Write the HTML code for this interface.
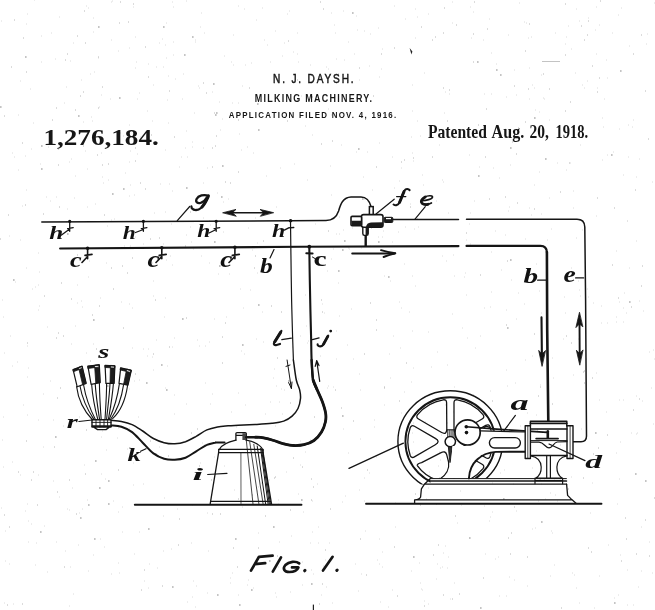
<!DOCTYPE html>
<html>
<head>
<meta charset="utf-8">
<title>Patent 1,276,184 - Milking Machinery</title>
<style>
html,body{margin:0;padding:0;background:#ffffff;}
body{width:655px;height:610px;overflow:hidden;font-family:"Liberation Sans",sans-serif;}
svg{display:block;position:absolute;left:0;top:0;will-change:transform;}
.sans{font-family:"Liberation Sans",sans-serif;fill:#161616;}
.serif{font-family:"Liberation Serif",serif;fill:#161616;}
.lab{font-family:"Liberation Serif",serif;font-style:italic;font-weight:bold;fill:#111;}
.ln{fill:none;stroke:#151515;stroke-linecap:round;stroke-linejoin:round;}
</style>
</head>
<body>
<svg width="655" height="610" viewBox="0 0 655 610">
<rect x="0" y="0" width="655" height="610" fill="#ffffff"/>

<g id="noise" fill="none" stroke-linecap="butt">
<path d="M212 92h1M47 327h1M38 310h1M284 43h1M278 504h1M31 524h1M94 72h1M535 110h1M418 227h1M41 36h1M446 261h1M384 276h1M520 426h1M100 298h1M438 466h1M573 191h1M389 354h1M550 576h1M186 235h1M15 282h1M85 151h1M571 49h1M566 170h1M99 107h1M153 296h1M172 2h1M452 314h1M257 243h1M415 38h1M137 99h1M34 0h1M66 222h1M573 375h1M165 212h1M305 295h1M67 209h1M543 98h1M623 322h1M356 16h1M641 527h1M171 224h1M536 451h1M339 217h1M18 170h1M454 583h1M239 134h1M129 125h1M590 513h1M428 488h1M491 292h1M636 241h1M620 442h1M642 401h1M359 80h1M636 396h1M541 129h1M192 147h1M170 256h1M596 216h1M382 552h1M601 306h1M343 11h1M364 199h1M364 478h1M367 152h1M506 310h1M498 557h1M401 308h1M454 276h1M313 574h1M574 575h1M90 74h1M48 147h1M101 437h1M144 581h1M106 263h1M222 119h1M473 12h1M289 11h1M409 312h1M69 162h1M510 165h1M374 427h1M38 420h1M47 572h1M44 526h1M175 79h1M156 67h1M33 123h1M200 463h1M328 109h1M12 153h1M480 336h1M311 570h1M536 264h1M547 240h1M450 599h1M545 431h1M265 212h1M167 100h1M551 531h1M185 148h1M301 96h1M203 218h1M250 290h1M132 308h1M173 55h1M27 14h1M152 357h1M576 238h1M532 85h1M447 423h1M20 81h1M69 510h1M411 382h1M490 307h1M165 45h1M639 301h1M404 392h1M199 346h1M40 164h1M453 412h1M338 283h1M78 545h1M641 571h1M294 164h1M619 129h1M87 500h1M581 429h1M588 297h1M2 300h1M198 86h1M207 513h1M492 512h1M190 227h1M654 359h1M280 168h1M67 509h1M613 152h1M335 116h1M360 439h1M422 175h1M607 78h1M639 159h1M197 340h1M110 99h1M593 303h1M594 608h1M91 117h1M224 56h1M491 252h1M343 230h1M82 307h1M565 132h1M163 244h1M587 289h1M163 67h1M300 336h1M423 185h1M165 388h1M73 43h1M382 237h1M394 6h1M302 585h1M579 290h1M201 13h1M442 256h1M437 564h1M22 206h1M484 308h1M193 581h1M123 136h1M436 579h1M93 32h1M489 19h1M248 228h1M111 2h1M230 583h1M632 127h1M538 501h1M32 289h1M602 118h1M588 18h1M532 468h1M207 168h1M495 559h1M618 15h1M253 153h1M323 566h1M506 370h1M162 39h1M579 603h1M55 59h1M465 273h1M273 378h1M490 517h1M79 513h1M130 151h1M100 539h1M428 604h1M599 25h1M382 567h1M567 274h1M509 577h1M390 378h1M242 86h1M167 366h1M133 7h1M444 113h1M133 485h1M41 62h1M360 390h1M107 424h1M205 346h1M278 500h1M578 281h1M10 336h1M596 54h1M243 308h1M633 120h1M618 595h1M35 565h1M105 479h1M120 133h1M339 234h1M25 511h1M393 336h1M201 256h1M279 402h1M287 14h1M511 280h1M310 65h1M282 56h1M334 25h1M335 33h1M248 580h1M104 547h1M534 88h1M603 127h1M331 195h1M445 546h1M514 70h1M69 606h1M258 487h1M649 352h1M501 270h1M384 405h1M1 21h1M404 264h1M587 81h1M428 14h1M233 65h1M147 356h1M134 381h1M88 571h1M98 58h1M571 477h1M173 7h1M368 214h1M163 551h1M348 248h1M38 475h1M361 574h1M131 371h1M420 496h1M203 183h1M305 452h1M148 64h1M174 338h1M516 319h1M421 589h1M576 9h1M413 423h1M457 523h1M475 348h1M139 380h1M597 88h1M70 567h1M93 18h1M454 387h1M483 40h1M599 576h1M135 68h1M555 495h1M540 385h1M134 195h1M14 157h1M469 224h1M405 19h1M286 472h1M462 328h1M112 1h1M499 596h1M121 302h1M186 131h1M326 67h1M53 481h1M515 383h1M56 542h1M153 281h1M494 459h1M228 199h1M379 77h1M580 145h1M101 95h1M214 319h1M521 447h1M129 389h1M135 237h1M261 483h1M328 386h1M93 368h1M485 554h1M376 457h1M445 391h1M205 383h1M412 153h1M298 379h1M442 567h1M429 475h1M321 595h1M616 317h1M138 417h1M233 35h1M262 8h1M275 426h1M616 322h1M525 239h1M415 286h1M148 588h1M307 180h1M82 509h1M557 163h1M166 260h1M2 440h1M160 184h1M281 389h1M415 9h1M623 400h1M66 87h1M508 211h1M592 483h1M549 120h1M348 453h1M578 339h1M153 85h1M38 285h1M322 304h1M307 343h1M551 229h1M629 46h1M417 17h1M447 568h1M643 311h1M240 289h1M505 129h1M192 505h1M330 166h1M217 193h1M357 30h1M596 373h1M411 425h1M446 130h1M300 465h1M599 400h1M539 480h1M169 184h1M209 263h1M612 33h1M377 560h1M9 236h1M614 598h1M270 62h1M139 93h1M3 417h1M159 447h1M560 445h1M412 433h1M470 7h1M426 499h1M204 445h1M564 297h1M241 351h1M238 393h1M619 479h1M461 505h1M394 188h1M582 230h1M186 1h1M532 529h1M448 557h1M153 370h1M305 126h1M492 483h1M580 318h1M386 115h1M118 428h1M370 246h1M245 65h1M516 95h1M226 317h1M319 346h1M166 23h1M118 51h1M365 531h1M620 555h1M392 242h1M628 157h1M420 583h1M257 273h1M633 605h1M25 156h1M424 601h1M443 182h1M496 64h1M168 76h1M110 145h1M582 85h1M412 276h1M539 291h1M94 135h1M467 338h1M570 163h1M219 102h1M208 551h1M438 129h1M187 157h1M606 60h1M192 597h1M529 208h1M1 508h1M143 349h1M129 48h1M399 302h1M532 356h1M43 447h1M312 532h1M122 507h1M107 226h1M3 317h1M535 528h1M324 313h1M147 111h1M164 498h1M63 426h1M12 366h1M343 429h1M570 437h1M81 301h1M183 74h1M509 207h1M555 33h1M627 570h1M276 386h1M348 42h1M331 13h1M579 21h1M174 414h1M355 564h1M164 317h1M623 175h1M424 73h1M626 313h1M306 326h1M81 80h1M266 176h1M400 348h1M132 433h1M359 374h1M203 148h1M336 234h1M156 340h1M187 602h1M506 97h1M571 268h1M484 94h1M231 412h1M557 501h1M3 467h1M326 587h1M398 232h1M300 441h1M256 339h1M327 271h1M199 88h1M628 125h1M596 7h1M339 316h1M255 218h1M230 578h1M344 60h1M263 342h1M576 588h1M541 313h1M649 542h1M102 177h1M331 115h1M413 368h1M651 388h1M269 480h1M452 2h1M552 358h1M129 304h1M174 395h1M653 350h1M70 61h1M342 502h1M528 38h1M232 103h1M65 551h1M229 274h1M36 543h1M629 268h1M534 185h1M317 484h1M114 219h1M636 177h1M75 326h1M264 40h1M541 214h1M125 173h1M23 405h1M102 431h1M177 509h1M247 585h1M623 308h1M171 549h1M241 150h1M139 532h1M336 331h1M505 235h1M372 190h1M210 404h1M368 221h1M195 40h1M87 169h1M445 405h1M270 402h1M163 516h1M412 111h1M26 24h1M130 185h1M26 190h1M118 512h1M469 155h1M448 213h1M546 474h1M28 521h1M31 149h1M491 53h1M278 567h1M484 506h1M297 33h1M84 465h1M460 491h1M358 591h1M356 152h1M234 251h1M439 145h1M93 344h1M111 407h1M75 176h1M135 37h1M129 428h1M74 198h1M238 103h1M369 66h1M284 116h1M5 561h1M411 571h1M165 150h1M194 113h1M554 565h1M210 225h1M242 507h1M27 346h1M619 302h1M103 183h1M53 420h1M290 592h1M26 268h1M560 480h1M186 404h1M276 207h1M108 180h1M369 212h1M56 197h1M638 587h1M531 37h1M399 181h1M624 293h1M18 115h1M293 52h1M244 354h1M347 345h1M166 58h1M165 298h1M148 349h1M336 359h1M267 45h1M369 473h1M508 35h1M244 9h1M279 542h1M224 466h1M541 75h1M28 368h1M359 490h1M606 412h1M381 69h1M72 488h1M363 177h1M621 8h1M524 22h1M536 415h1M258 533h1M50 201h1M586 359h1M111 220h1M378 237h1M4 353h1M30 89h1M179 167h1M172 347h1M627 605h1M507 386h1M572 573h1M333 387h1M361 248h1M315 224h1M154 213h1M5 531h1M292 347h1M111 40h1M202 443h1M382 49h1M380 602h1M181 157h1M143 244h1M395 527h1M573 208h1M419 563h1M214 457h1M265 414h1M38 253h1M410 204h1M392 157h1M9 564h1M647 34h1M474 201h1M59 497h1M353 359h1M431 367h1M500 473h1M506 596h1M86 6h1M429 472h1M59 17h1M39 306h1M119 573h1M604 99h1M327 388h1M524 281h1M43 394h1M566 37h1M411 137h1M172 265h1M133 463h1M195 607h1M539 172h1M318 543h1M447 365h1M379 539h1M652 182h1M73 594h1M64 103h1M452 23h1M152 263h1M13 604h1M575 73h1M89 261h1M328 69h1M325 560h1M479 167h1M173 42h1M333 249h1M238 6h1M428 332h1M470 244h1M275 593h1M252 250h1M654 3h1M607 155h1M247 147h1M595 30h1M212 394h1M207 593h1M489 521h1M388 607h1M412 453h1M466 240h1M401 413h1M412 331h1M310 440h1M312 135h1M607 323h1M345 496h1M113 501h1M568 26h1M545 499h1M101 153h1M234 490h1M297 54h1M653 424h1M98 415h1M341 145h1M223 232h1M132 348h1M117 438h1M405 227h1M193 249h1M531 215h1M379 564h1M636 434h1M436 201h1M495 231h1M17 362h1M303 512h1M310 543h1M439 452h1M27 415h1M504 470h1M370 34h1M466 295h1M453 255h1M95 204h1M4 603h1M172 191h1M563 339h1M275 31h1M168 123h1M352 228h1M320 356h1M364 31h1M349 249h1M291 536h1M284 390h1M565 44h1M118 563h1M524 304h1M442 180h1M136 62h1M514 580h1M449 94h1M192 142h1M209 342h1M256 20h1M420 136h1M282 414h1M652 573h1M325 567h1M318 527h1M354 54h1M149 564h1M392 590h1M619 400h1M218 274h1M195 42h1M390 281h1M336 59h1M86 353h1M245 405h1M111 574h1M552 533h1M77 303h1M77 285h1M351 309h1M130 246h1M329 543h1M374 420h1M491 94h1M20 240h1M191 543h1M379 143h1M514 434h1M27 377h1M302 562h1M616 251h1M445 92h1M92 121h1M518 293h1M417 121h1M554 480h1M470 213h1M525 360h1M196 586h1M152 121h1M449 433h1M513 484h1M617 504h1M519 3h1M274 369h1M220 130h1M553 378h1M79 417h1M539 112h1M627 221h1M332 603h1M544 99h1M298 494h1M231 62h1M565 313h1M608 545h1M50 381h1M627 221h1M414 229h1M443 553h1M238 595h1M547 417h1M477 457h1M584 88h1M378 28h1M490 391h1M499 178h1M276 597h1M527 413h1M631 433h1M182 99h1M541 484h1M106 450h1M204 33h1M129 196h1M71 159h1M253 588h1M134 554h1M308 341h1M493 168h1M601 323h1M27 504h1M232 573h1M159 43h1M494 414h1M529 68h1M422 590h1M453 473h1M616 453h1M257 491h1M122 532h1M87 207h1M437 352h1M516 511h1M440 460h1M401 168h1M395 503h1M140 137h1M236 427h1M549 198h1M412 85h1M39 272h1M72 137h1M223 202h1M143 484h1M550 493h1M20 475h1M331 259h1M413 442h1M262 312h1M527 586h1M646 44h1M88 277h1M464 277h1M124 246h1M127 449h1M129 162h1M471 38h1M413 161h1M200 27h1M298 62h1M101 474h1M312 501h1M71 344h1M137 154h1M88 8h1M383 231h1M544 479h1M28 542h1M46 197h1M580 296h1M251 63h1M83 122h1M35 287h1M441 435h1M425 422h1M93 555h1M526 23h1M157 568h1M440 568h1M602 160h1M12 462h1M637 433h1M529 99h1M364 501h1M51 33h1M191 242h1" stroke="#dcdcdc" stroke-width="1"/>
<path d="M376 320h1M77 255h1M435 37h1M424 606h1M77 36h1M360 539h1M443 33h1M511 533h1M506 325h1M216 136h1M645 520h1M433 555h1M517 203h1M83 92h1M528 89h1M612 265h1M120 2h1M113 289h1M366 575h1M439 478h1M319 604h1M277 556h1M169 91h1M525 51h1M222 337h1M85 43h1M492 401h1M645 91h1M421 27h1M584 383h1M330 509h1M541 356h1M320 2h1M432 40h1M478 125h1M314 417h1M97 155h1M607 435h1M626 539h1M480 275h1M225 182h1M169 347h1M625 518h1M14 20h1M0 239h1M473 395h1M512 142h1M162 586h1M447 121h1M635 190h1M151 135h1M258 548h1M23 38h1M168 456h1M404 160h1M526 450h1M209 221h1M52 120h1M371 228h1M332 141h1M311 500h1M238 120h1M133 4h1M186 318h1M71 299h1M592 378h1M265 516h1M162 442h1M27 343h1M321 144h1M54 447h1M561 608h1M322 584h1M43 214h1M417 219h1M364 354h1M487 29h1M291 572h1M583 478h1M4 515h1M25 205h1M455 516h1M489 199h1M215 146h1M641 286h1M238 499h1M584 40h1M65 60h1M631 307h1M565 55h1M321 300h1M263 241h1M135 161h1M328 231h1M552 404h1M111 268h1M197 429h1M150 441h1M507 427h1M275 477h1M356 98h1M376 330h1M335 390h1M174 137h1M85 474h1M418 499h1M237 567h1M37 505h1M514 86h1M584 371h1M438 545h1M565 4h1M588 21h1M410 207h1M277 338h1M639 399h1M384 387h1M26 441h1M4 116h1M399 401h1M119 23h1M26 72h1M633 54h1M84 11h1M33 472h1M443 88h1M274 235h1M397 596h1M394 547h1M277 358h1M581 26h1M179 519h1M56 338h1M57 492h1M153 354h1M22 604h1M591 552h1M31 480h1M444 8h1M128 22h1M144 570h1M64 567h1M102 165h1M641 35h1M587 35h1M122 266h1M118 470h1M135 374h1M473 34h1M220 514h1M323 9h1M338 74h1M466 233h1M90 361h1M96 349h1M255 256h1M527 557h1M415 494h1M58 333h1M8 215h1M254 268h1M484 453h1M311 479h1M599 78h1M274 478h1M211 480h1M381 54h1M212 514h1M370 303h1M225 323h1M586 421h1M80 96h1M505 197h1M560 192h1M159 238h1M145 189h1M290 510h1M104 215h1M297 80h1M56 108h1M148 77h1M185 246h1M508 538h1M598 448h1M518 128h1M258 456h1M281 312h1M203 83h1M230 183h1M534 334h1M302 467h1M7 605h1M18 472h1M514 507h1M214 113h1M537 430h1M474 2h1M436 504h1M636 554h1M196 209h1M75 110h1M359 68h1M566 336h1M473 62h1M140 183h1M571 343h1M570 102h1M483 578h1M127 273h1M249 88h1M353 421h1M99 306h1M312 97h1M367 470h1M238 172h1M199 466h1M614 208h1M507 261h1M44 296h1M108 164h1M394 48h1M123 328h1M102 87h1M485 157h1M648 139h1M98 108h1M592 66h1M373 96h1M569 163h1M579 220h1M565 111h1M597 92h1M59 207h1M22 143h1M449 90h1M141 590h1M452 599h1M76 514h1M401 162h1M420 505h1M313 487h1M212 148h1M60 388h1M132 258h1M290 224h1M325 550h1M322 312h1M145 47h1M67 54h1M654 498h1M568 489h1M525 122h1M212 167h1M191 433h1M549 89h1M432 157h1M456 25h1M597 198h1M61 283h1M543 74h1M190 212h1M178 545h1M486 109h1M63 336h1M98 57h1M83 146h1M618 298h1M534 209h1M58 149h1M510 554h1M633 410h1M593 454h1M540 479h1M516 154h1M155 300h1M57 398h1M222 363h1M11 67h1M58 165h1M290 403h1M583 372h1M293 458h1M92 315h1M548 389h1M206 93h1M413 158h1M341 408h1M271 306h1M376 167h1M588 548h1M538 396h1M86 430h1M443 595h1M529 24h1M287 121h1M459 594h1M621 561h1M9 527h1M233 548h1M649 556h1M642 266h1M252 495h1M135 148h1M384 388h1M288 41h1M150 239h1M540 387h1M69 480h1M600 1h1M406 363h1" stroke="#b8b8b8" stroke-width="1"/>
<path d="M146 383h1.6M378 242h1.6M478 176h1.6M235 539h1.6M242 345h1.6M80 518h1.6M614 603h1.6M94 539h1.6M645 481h1.6M172 587h1.6M358 149h1.6M301 500h1.6M93 320h1.6M413 557h1.6M41 169h1.6M541 522h1.6M342 416h1.6M258 130h1.6M480 608h1.6M216 113h1.6M222 166h1.6M311 584h1.6M362 199h1.6M214 242h1.6M78 116h1.6M186 188h1.6M273 527h1.6M534 118h1.6M108 481h1.6M119 98h1.6M166 390h1.6M155 454h1.6M545 159h1.6M215 115h1.6M477 62h1.6M67 234h1.6M342 250h1.6M500 75h1.6M611 155h1.6M192 37h1.6M131 458h1.6M98 27h1.6M510 260h1.6M503 499h1.6M95 461h1.6M239 605h1.6M40 532h1.6M352 13h1.6M108 504h1.6M344 241h1.6M219 266h1.6M635 474h1.6M72 137h1.6M507 328h1.6M288 381h1.6M112 194h1.6M163 27h1.6M629 302h1.6M184 55h1.6M338 271h1.6M55 437h1.6M496 70h1.6M257 104h1.6M13 280h1.6M221 197h1.6M129 448h1.6M182 319h1.6M510 148h1.6M269 561h1.6M469 538h1.6M388 277h1.6M99 488h1.6M161 365h1.6M217 595h1.6M88 505h1.6M620 71h1.6M258 305h1.6M0 107h1.6M213 84h1.6M251 590h1.6M123 189h1.6M148 529h1.6M107 386h1.6M595 433h1.6M41 146h1.6M25 57h1.6" stroke="#8a8a8a" stroke-width="1.2"/>
</g>

<!-- ===== HEADER TEXT ===== -->
<g id="header">
<text class="sans" transform="translate(273.1 83.2) scale(0.8 1)" x="0" y="0" font-size="12.6" textLength="100.6" lengthAdjust="spacing" stroke="#161616" stroke-width="0.5">N. J. DAYSH.</text>
<text class="sans" transform="translate(254.8 102.1) scale(0.8 1)" x="0" y="0" font-size="11.2" font-weight="bold" textLength="146.6" lengthAdjust="spacing">MILKING MACHINERY.</text>
<text class="sans" transform="translate(228.7 118) scale(0.8 1)" x="0" y="0" font-size="9.9" font-weight="bold" textLength="209.4" lengthAdjust="spacing">APPLICATION FILED NOV. 4, 1916.</text>
<text class="serif" x="43.4" y="144.8" font-size="22.3" font-weight="bold" textLength="115.4" lengthAdjust="spacingAndGlyphs">1,276,184.</text>
<g class="serif" font-size="19" font-weight="bold">
<text x="427.9" y="138.4" textLength="59" lengthAdjust="spacingAndGlyphs">Patented</text>
<text x="491.6" y="138.4" textLength="32.6" lengthAdjust="spacingAndGlyphs">Aug.</text>
<text x="529.6" y="138.4" textLength="19.4" lengthAdjust="spacingAndGlyphs">20,</text>
<text x="555.6" y="138.4" textLength="32.6" lengthAdjust="spacingAndGlyphs">1918.</text>
</g>
</g>

<!-- ===== PIPES ===== -->
<g id="pipes" class="ln">
<!-- line g -->
<path d="M41.8 221.9 L200 221.3 L326 220.5 C333 220.4 336.6 217 338.6 211 C340.6 204 343 197.4 351 197 H361 C367 197 369.6 201 371.2 207" stroke-width="1.5"/>
<!-- line e -->
<path d="M393 219.6 H458.5 M466.5 219.3 H577 Q584.6 219.3 584.8 227 L585.6 300 L586.5 436 Q586.5 441.7 581 441.7 H573" stroke-width="1.5"/>
<!-- line b -->
<path d="M60.1 248.5 L300 246.8 L458.5 246.1 M466.5 245.9 H540.5 Q546.8 245.9 546.9 252.5" stroke-width="2.1"/>
<path d="M546.9 252 L547.2 330 L548.3 421" stroke-width="2.6"/>
</g>

<!-- ===== TAPS ===== -->
<g id="taps" class="ln" stroke-width="1.3">
<g id="tapsg">
<path d="M69.7 221 V231.3 M67.6 228.7 L73.2 227.7 M61.5 235 L69.7 229"/>
<path d="M143.4 221 V231.3 M141.3 228.7 L146.9 227.7 M135.5 232.5 L143.4 229.5"/>
<path d="M216.2 221 V231.3 M214.1 228.7 L219.7 227.7 M209 233 L216.2 229.5"/>
<path d="M288.6 227.9 L293.8 227.5 M284.3 230.1 L289.2 227.7"/>
</g>
<g id="tapsb" stroke-width="1.6">
<path d="M87.6 248 V258.7 M85 255.4 L92 254.4 M82 262.5 L87.6 256.5"/>
<path d="M161.8 248 V258.7 M159.2 255.4 L166.2 254.4 M156 262.5 L161.8 256.5"/>
<path d="M234.9 248 V258.7 M232.3 255.4 L239.3 254.4 M229 262.5 L234.9 256.5"/>
<path d="M306.3 253.2 L312.6 253.4" stroke-width="2"/><path d="M312.4 257 L315.4 258.8" stroke-width="1"/>
</g>
</g>
<g id="tapdots" fill="#111">
<circle cx="69.7" cy="221.3" r="1.6"/><circle cx="143.4" cy="221.3" r="1.6"/><circle cx="216.2" cy="221.3" r="1.6"/><circle cx="290.6" cy="220.8" r="1.8"/>
<circle cx="87.6" cy="248.2" r="1.8"/><circle cx="161.8" cy="247.8" r="1.8"/><circle cx="234.9" cy="247.3" r="1.8"/><circle cx="309.3" cy="246.7" r="1.9"/>
</g>


<!-- ===== VALVE f ===== -->
<g id="valve">
<rect x="369.4" y="206.6" width="3.8" height="8.6" fill="#ffffff" stroke="#151515" stroke-width="1.5"/>
<path d="M362.8 226 V233.6 Q362.8 235.4 364.4 235.4 H366.6 Q368.2 235.4 368.2 233.6 V226 Z" fill="#ffffff" stroke="#151515" stroke-width="1.4"/>
<path d="M365.6 228 V235.4 H366.6 Q368.2 235.4 368.2 233.6 V227 Z" fill="#1a1a1a"/>
<path d="M365.7 235 V246.4" stroke="#151515" stroke-width="2.4" fill="none"/>
<rect x="361.4" y="214.6" width="21.6" height="12.6" rx="2.2" fill="#ffffff" stroke="#151515" stroke-width="1.6"/>
<path d="M366 227 C366.4 224 368 222.6 371 222.4 L383 222.2 V225.4 Q383 227.2 381 227.2 Z" fill="#1a1a1a"/>
<rect x="351" y="216.4" width="10.6" height="9.4" rx="1.2" fill="#ffffff" stroke="#151515" stroke-width="1.6"/>
<path d="M351.4 220.8 H361.4 V225.6 H351.8 Z" fill="#1a1a1a"/>
<rect x="384.2" y="217.3" width="8.6" height="5.2" rx="1" fill="#1a1a1a" stroke="#151515" stroke-width="1"/>
<path d="M386 218.6 H391" stroke="#ffffff" stroke-width="1.2"/>
</g>

<!-- ===== ARROWS ===== -->
<g id="arrows" class="ln" stroke-width="1.5">
<path d="M228 212.7 H268" stroke-width="1.4"/>
<path d="M223 212.7 L236 209.4 L232.4 212.7 L236 216 Z" fill="#151515" stroke-width="0.8"/>
<path d="M273.3 212.6 L260 209.4 L263.6 212.6 L260.6 216 Z" fill="#151515" stroke-width="0.8"/>
<path d="M352.2 253.5 H394.6" stroke-width="1.9"/>
<path d="M395.3 253.3 C390 252.8 385 251.4 381 250.2 M395.3 253.3 C391 254.4 387 255.6 383.6 257" stroke-width="1.9"/>
<path d="M541.5 317.4 L541.9 356" stroke-width="2.1"/>
<path d="M542 366 L538.7 350.4 L542 354 L545.3 350.8 Z" fill="#151515" stroke-width="0.8"/>
<path d="M579.5 322 L579.7 356" stroke-width="1.9"/>
<path d="M579.4 312.6 L575.9 327.6 L579.4 324 L582.6 326.6 Z" fill="#151515" stroke-width="0.8"/>
<path d="M579.7 364.8 L576.4 350.2 L579.7 353.6 L582.8 350.2 Z" fill="#151515" stroke-width="0.8"/>
<!-- small arrows on l and j -->
<path d="M287.1 360 L291.3 388 M291.4 388.4 L288.6 382.6 M291.4 388.4 L292 382 M286 366.4 L290 365" stroke-width="1"/>
<path d="M316.7 360.6 L319.7 381.4 M316.7 360.6 L315.2 366.4 M316.7 360.6 L319 365.6" stroke-width="1.2"/>
</g>

<!-- ===== HOSES ===== -->
<g id="hoses" class="ln">
<path d="M290.5 221.0 C290.6 227.5 290.8 246.8 291.0 260.0 C291.2 273.2 291.3 287.2 291.6 300.0 C291.9 312.8 292.3 327.0 292.6 337.0 C292.9 347.0 293.3 356.2 293.4 360.0" stroke-width="1.2"/>
<path d="M293.4 360.0 C293.9 363.3 295.2 375.0 296.3 380.0 C297.4 385.0 299.0 387.0 299.7 390.1 C300.4 393.2 300.8 395.4 300.5 398.5 C300.2 401.6 299.4 405.6 298.0 408.5 C296.6 411.4 294.5 414.0 292.1 416.1 C289.7 418.2 287.1 419.9 283.7 421.1 C280.3 422.3 276.8 422.7 272.0 423.3 C267.2 423.9 260.8 424.2 255.2 424.5 C249.6 424.8 242.9 425.1 238.4 425.3 C233.9 425.5 231.7 425.5 228.2 425.8 C224.7 426.1 221.1 426.2 217.5 426.9 C213.9 427.6 210.5 428.3 206.9 429.9 C203.3 431.5 199.8 434.3 196.2 436.3 C192.6 438.3 189.1 440.4 185.5 441.7 C181.9 442.9 178.4 443.6 174.8 443.8 C171.2 444.0 167.7 443.6 164.1 442.7 C160.5 441.8 157.0 440.4 153.4 438.5 C149.8 436.6 146.2 433.3 142.7 431.0 C139.1 428.7 135.6 426.2 132.1 424.6 C128.6 423.0 124.9 422.1 121.4 421.4 C117.9 420.7 112.7 420.4 111.0 420.2" stroke-width="1.5"/>
<path d="M111.0 425.4 C112.7 425.6 117.9 425.6 121.4 426.7 C124.9 427.8 128.6 429.4 132.1 432.1 C135.6 434.8 139.1 439.1 142.7 442.7 C146.2 446.2 149.8 450.7 153.4 453.4 C157.0 456.1 160.5 457.7 164.1 458.8 C167.7 459.9 171.2 460.0 174.8 459.8 C178.4 459.6 181.9 459.1 185.5 457.7 C189.1 456.3 192.6 453.4 196.2 451.3 C199.8 449.2 203.7 446.3 206.9 444.9 C210.1 443.4 214.0 443.0 215.4 442.6" stroke-width="2"/>
<path d="M309.3 247.0 C309.4 252.5 309.6 269.5 309.8 280.0 C310.0 290.5 310.2 300.5 310.4 310.0 C310.6 319.5 310.9 328.7 311.1 337.0 C311.3 345.3 311.3 352.8 311.6 360.0 C311.9 367.2 312.2 375.0 313.1 380.0 C314.1 385.0 315.8 386.5 317.3 390.1 C318.9 393.7 321.0 397.9 322.4 401.8 C323.8 405.7 325.2 410.2 325.7 413.6 C326.2 417.0 326.1 418.9 325.4 422.0 C324.7 425.1 323.4 429.0 321.5 432.1 C319.6 435.2 316.9 438.4 314.0 440.5 C311.1 442.6 307.3 443.9 303.9 444.7 C300.5 445.5 297.2 445.6 293.8 445.5 C290.4 445.4 287.1 444.6 283.7 443.8 C280.3 443.0 277.0 441.5 273.7 440.5 C270.4 439.5 266.7 438.5 263.6 437.9 C260.6 437.3 256.8 437.2 255.4 437.1" stroke-width="2.1"/>
<path d="M311.6 360.0 C311.9 363.3 312.2 375.0 313.1 380.0 C314.1 385.0 316.6 388.4 317.3 390.1" stroke-width="2.4"/>
<path d="M313.1 380.0 C313.8 381.7 315.8 386.5 317.3 390.1 C318.9 393.7 321.0 397.9 322.4 401.8 C323.8 405.7 325.2 410.2 325.7 413.6 C326.2 417.0 326.1 418.9 325.4 422.0 C324.7 425.1 323.4 429.0 321.5 432.1 C319.6 435.2 316.9 438.4 314.0 440.5 C311.1 442.6 307.3 443.9 303.9 444.7 C300.5 445.5 297.2 445.6 293.8 445.5 C290.4 445.4 287.1 444.6 283.7 443.8 C280.3 443.0 277.0 441.5 273.7 440.5 C270.4 439.5 266.7 438.5 263.6 437.9 C260.6 437.3 256.8 437.2 255.4 437.1" stroke-width="2.8"/>
</g>



<!-- ===== MILK CAN i ===== -->
<g id="can" class="ln" stroke-width="1.3">
<path d="M134.8 504.8 H301.5" stroke-width="1.9"/>
<!-- neck -->
<path d="M235.9 440.2 V433.6 Q235.9 432.6 237 432.6 H245.2 Q246.3 432.6 246.3 433.6 V440.2 M235.9 435.4 H246.3"/>
<rect x="242.4" y="433.2" width="3.6" height="6.8" fill="#444" stroke="none"/>
<!-- nipples -->
<path d="M246.3 437.2 H257" stroke-width="2.6"/>
<path d="M216 442.6 L224.6 442.4" stroke-width="2"/>
<!-- shoulder -->
<path d="M235.9 440.2 C228 442 221.8 444.6 219.4 449.3 M246.3 440.2 C254 441.6 260.4 445 263.1 450 M218.8 449.4 H263.1 M218.6 452.7 H263.1" stroke-width="1.3"/>
<!-- body -->
<path d="M218.8 449.4 L218.6 452.7 L210.2 503.9 M263.1 450 V452.7 L271.5 503.9 M210.8 501.4 H271" stroke-width="1.3"/>
<path d="M240.9 452.7 L241 503.5" stroke-width="0.7"/>
<path d="M246.3 440.2 L253 503.9 M249.7 441.8 L258.9 503.9 M253.8 444.3 L263.1 503.9" stroke-width="0.8"/>
<path d="M257.2 446 L265.6 503.9 M260.6 448.5 L268.1 503.9 M262.6 450.2 L270.4 503.9 M261.6 449.5 L269.3 503.9" stroke-width="1"/>
</g>

<!-- ===== TEAT CUPS s / CLAW r ===== -->
<g id="claw" class="ln" stroke-width="1.1">
<!-- tubes to claw -->
<path d="M76.6 386.6 C78 398 84 411 92.6 420 M83.6 385 C85.6 397 90 409 95.4 419.4 M80 386 C82 398 87.6 410 94 419.6" />
<path d="M91.6 384 C92.6 397 95 409 97.8 419.4 M99.4 383 C99.6 397 100.4 409 101.2 419.4 M95.2 383.6 C96 397 98 409 99.6 419.4"/>
<path d="M106.6 383.6 C106.6 397 105.6 409 105 419.4 M113.4 383.6 C112.4 397 110 410 108.4 419.4 M110 383.6 C109.4 397 107.4 410 106.6 419.4"/>
<path d="M119.4 383.6 C117.6 397 113.4 410 109.2 419.4 M127.6 385.4 C125.6 399 120 412 112.6 418.6 M123.6 384.6 C121.6 398 116.6 411 110.8 419"/>
<!-- cup shells -->
<path d="M73.1 369.6 L82.1 366.2 L86.2 383.4 L77.2 386.8 Z" fill="#ffffff" stroke-width="1.2"/>
<path d="M87.9 366.2 L99.3 364.8 L100.2 382.6 L91.1 384.3 Z" fill="#ffffff" stroke-width="1.2"/>
<path d="M105.1 365.4 L114.9 365.9 L114.1 383.4 L105.9 383.4 Z" fill="#ffffff" stroke-width="1.2"/>
<path d="M120.7 367.9 L131.3 370.4 L128 385.1 L119 383.4 Z" fill="#ffffff" stroke-width="1.2"/>
<!-- shading on shells -->
<path d="M78.6 367.7 L82.6 384.6 L86 383.2 L82 366.4 Z M73.2 369.6 L82 366.3 L82.5 368.2 L73.8 371.6 Z" fill="#1c1c1c" stroke-width="0.8"/>
<path d="M94.6 365.6 L95.8 383.2 L100 382.4 L99.2 365 Z M88 366.3 L99.2 364.9 L99.3 367 L88.2 368.4 Z" fill="#1c1c1c" stroke-width="0.8"/>
<path d="M110.4 365.8 L110 383.2 L114 383.2 L114.7 366 Z M105.2 365.5 L114.8 366 L114.7 368 L105.3 367.5 Z" fill="#1c1c1c" stroke-width="0.8"/>
<path d="M126.6 369.4 L123.6 384.2 L127.8 384.9 L131 370.5 Z M120.8 368 L131.2 370.5 L130.8 372.5 L120.5 370 Z" fill="#1c1c1c" stroke-width="0.8"/>
<!-- claw body -->
<path d="M92 419.8 H111 V427 H92 Z M93.4 427 L97.6 429.6 H106 L109.6 427" stroke-width="1.4" fill="#ffffff"/>
<path d="M92 422.4 H111 M96 419.8 V427 M100 419.8 V427 M104 419.8 V427 M107.6 419.8 V427" stroke-width="0.9"/>
<path d="M92.4 426.2 H111" stroke-width="1.8"/>
</g>


<!-- ===== ENGINE ===== -->
<g id="engine" class="ln" stroke-width="1.3">
<!-- ground -->
<path d="M366 503.8 H601.5" stroke-width="1.9"/>
<!-- flywheel (behind) -->
<clipPath id="wclip"><path d="M380 380 H520 V478.6 H430.4 V484.4 H380 Z"/></clipPath>
<g clip-path="url(#wclip)">
<ellipse cx="450.3" cy="441.6" rx="52.4" ry="50.8" stroke-width="1.4"/>
<ellipse cx="450.3" cy="441.6" rx="44.9" ry="44.4" stroke-width="1.9"/>
<path d="M446.8 429.1 L446.6 402.8 Q446.6 399.4 443.2 399.8 A42.4 42.4 0 0 0 417.6 414.6 Q415.6 417.3 418.5 419.0 L441.2 432.3 Q446.8 435.5 446.8 429.1 Z M435.3 438.4 L414.4 426.3 Q411.5 424.6 410.2 427.8 A42.4 42.4 0 0 0 410.2 455.4 Q411.5 458.6 414.4 456.9 L435.3 444.8 Q440.9 441.6 435.3 438.4 Z M459.6 432.0 L482.1 419.0 Q485.0 417.3 483.0 414.6 A42.4 42.4 0 0 0 457.4 399.8 Q454.0 399.4 454.0 402.8 L454.0 428.7 Q454.0 435.2 459.6 432.0 Z M463.3 444.8 L485.8 457.8 Q488.7 459.5 490.0 456.4 A42.4 42.4 0 0 0 490.0 426.8 Q488.7 423.7 485.8 425.4 L463.3 438.4 Q457.7 441.6 463.3 444.8 Z M454.0 454.5 L454.0 480.4 Q454.0 483.8 457.4 483.4 A42.4 42.4 0 0 0 483.0 468.6 Q485.0 465.9 482.1 464.2 L459.6 451.2 Q454.0 448.0 454.0 454.5 Z" stroke-width="1.3"/>
<!-- lower-left hole (custom) -->
<path d="M421.6 462.6 L440.6 452.8 Q445.6 450.4 446.6 454.4 L448.6 462 C449.6 469 446 475.4 440 479 L436.3 479.9 A40.8 40.8 0 0 1 417.3 465.6 Q416.6 463.8 421.6 462.6 Z" stroke-width="1.3"/>
</g>
<path d="M447.4 429.8 H454.4 M447.8 430 V437 M454 430 V437 M449.9 430 V436.6 M452 430 V436.6" stroke-width="1"/>
<path d="M448.3 446 L449.4 458 L450 462.6 L450.8 458 L452.2 446 Z" fill="#333" stroke-width="0.9"/>
<circle cx="450.3" cy="441.6" r="5.2" fill="#ffffff" stroke-width="1.5"/>
<!-- frame (in front of wheel) -->
<path d="M452.4 446 L451.2 462 L451 478.4 L469.4 478.4 C469.2 466 474 456 488.7 452 L524.8 451.6 V431.2 L478 430.4 L470 446 Z" fill="#ffffff" stroke="none"/>
<path d="M524.8 451.7 L496 451.9 C482 452.6 469.6 462 468.9 478.4" stroke-width="1.9"/>
<path d="M480.4 430.8 L524.8 432" stroke-width="1.2"/>
<rect x="489.4" y="437.6" width="31" height="10.4" rx="5.2" fill="#ffffff" stroke-width="1.4"/>
<!-- base -->
<path d="M430.4 478.6 H566.4" stroke-width="1"/>
<path d="M430.4 481 H566.4" stroke-width="1.7"/>
<path d="M424.4 484.2 H566.6 M430.4 478.6 L424.4 484.2" stroke-width="1.3"/>
<path d="M424.3 484.4 L421.4 488.8 L420.6 497 Q419.6 499.6 414.6 499.8 V503.4 M414.6 499.8 H571.4 M566.6 484.2 L567.6 495.4 L571.8 499.6 L576 503.2"/>
<!-- crank disk -->
<circle cx="467.6" cy="432.4" r="12.6" fill="#ffffff" stroke-width="1.7"/>
<circle cx="466.3" cy="426.8" r="1.8" fill="#111" stroke="none"/>
<circle cx="466.5" cy="432.6" r="1.8" fill="#111" stroke="none"/>
<!-- connecting rod -->
<path d="M466.3 426.8 L500 429.4 L547 432.4" stroke-width="1.6"/>
<path d="M484 427.6 Q487 425 490.4 428.2" stroke-width="1.1"/>
<!-- cylinder -->
<path d="M530.4 426 V421.2 H566.8 V426" fill="#ffffff" stroke-width="1.5"/>
<path d="M530.4 423.4 H566.8" stroke-width="1.6"/>
<rect x="525.2" y="425.8" width="5.2" height="32.7" fill="#ffffff" stroke-width="1.4"/>
<path d="M527.8 426 V458.4" stroke-width="0.8"/>
<rect x="567" y="425.8" width="6" height="32.7" fill="#ffffff" stroke-width="1.4"/>
<path d="M570.1 426 V458.4" stroke-width="0.8"/>
<path d="M530.6 429 H567 M530.6 455.5 H567" stroke-width="1.3"/>
<path d="M530.6 440.6 H567" stroke-width="1"/>
<path d="M530.6 442.2 H539 C544 442.4 545.6 447.9 549 447.9 C552.4 447.9 553.6 442.6 557.2 442 L567 441.6" stroke-width="1.2"/>
<path d="M536.2 438.6 H558" stroke-width="1.9"/>
<path d="M547.8 431.2 V437.6" stroke-width="2.6"/>
<!-- pedestal -->
<path d="M530.8 455.8 C537.6 457 541 461.6 541.2 467 C541.4 472 539.6 475.8 535.8 478 M566.8 455.8 C560.4 457 557 461.6 556.9 467 C556.8 472 558.6 475.8 562 478 M535 478.2 H562.6 M546.7 455.6 V478 M550.4 455.6 V478 M535 478.2 V483.6 M562.6 478.2 V483.6 M535 480.6 H562.6" stroke-width="1.2"/>
</g>

<!-- ===== LEADERS ===== -->
<g id="leaders" class="ln" stroke-width="1.2">
<path d="M177.3 220.7 L189.7 206.5"/>
<path d="M376 214 L394.2 199.2"/>
<path d="M414.8 219.4 L425.3 206.6"/>
<path d="M537.6 280.2 H546.4" stroke-width="1.2"/>
<path d="M575.6 277.9 H583.7" stroke-width="1.2"/>
<path d="M281.8 339.7 L291.4 338.2"/>
<path d="M312.4 339.7 L319.1 337.8"/>
<path d="M78.9 421.5 L92 420"/>
<path d="M140.6 451.3 L146 448.7"/>
<path d="M207.7 474.5 L227 473.4"/>
<path d="M349 468.4 L403.4 443.2" stroke-width="1.3"/>
<path d="M515.4 415.4 L503.6 431.2"/>
<path d="M549 444 L585 460.6"/>
<path d="M274 249.6 L270 258"/>
</g>

<!-- ===== LABELS ===== -->
<g id="labels">
<text class="lab" style="" transform="translate(49.30 239.20) scale(0.2515 0.1928)" font-size="100" x="0" y="0">h</text>
<text class="lab" style="" transform="translate(122.73 238.60) scale(0.2351 0.1899)" font-size="100" x="0" y="0">h</text>
<text class="lab" style="" transform="translate(197.33 237.40) scale(0.2351 0.1871)" font-size="100" x="0" y="0">h</text>
<text class="lab" style="" transform="translate(271.92 237.20) scale(0.2392 0.1871)" font-size="100" x="0" y="0">h</text>
<text class="lab" style="" transform="translate(70.11 267.20) scale(0.2627 0.2042)" font-size="100" x="0" y="0">c</text>
<text class="lab" style="" transform="translate(147.59 267.18) scale(0.2747 0.2208)" font-size="100" x="0" y="0">c</text>
<text class="lab" style="" transform="translate(220.19 266.77) scale(0.2747 0.2292)" font-size="100" x="0" y="0">c</text>
<text class="lab" style="font-style:normal;" transform="translate(313.56 266.39) scale(0.2961 0.2146)" font-size="100" x="0" y="0">c</text>
<text class="lab" style="" transform="translate(260.12 272.69) scale(0.2549 0.2057)" font-size="100" x="0" y="0">b</text>
<text class="lab" style="" transform="translate(523.46 282.99) scale(0.2923 0.2057)" font-size="100" x="0" y="0">b</text>
<text class="lab" style="" transform="translate(563.41 282.36) scale(0.2759 0.2375)" font-size="100" x="0" y="0">e</text>
<text class="lab" style="" transform="translate(98.14 358.42) scale(0.2849 0.1833)" font-size="100" x="0" y="0">s</text>
<text class="lab" style="" transform="translate(66.83 427.80) scale(0.2827 0.1830)" font-size="100" x="0" y="0">r</text>
<text class="lab" style="" transform="translate(127.40 461.00) scale(0.2695 0.1957)" font-size="100" x="0" y="0">k</text>
<text class="lab" style="" transform="translate(192.44 479.80) scale(0.3840 0.1727)" font-size="100" x="0" y="0">i</text>
<text class="lab" style="" transform="translate(510.54 410.39) scale(0.3613 0.2146)" font-size="100" x="0" y="0">a</text>
<text class="lab" style="" transform="translate(585.26 468.11) scale(0.3360 0.1943)" font-size="100" x="0" y="0">d</text>
<g class="ln" stroke-width="2">
<path d="M208.4 195.7 C204 194.2 198.4 195.4 196.6 199 C195.2 202 197.6 203.7 200.4 203 C203.4 202.2 205.6 200 206.8 197.6" stroke-width="2.3"/>
<path d="M208.6 195.6 C206.6 200.4 204 205.2 201 208 C198 210.8 193.8 210.6 191.8 208.2 L191.4 206.4" stroke-width="2.2"/>
<path d="M208.2 196.6 C206.4 200.6 204.4 204.4 202 207" stroke-width="3"/>
<path d="M409.6 190.2 C408.6 188.7 405.8 188.5 404.4 190.7 C402.6 193.7 401.4 198.6 399.4 202.6 C398 205.3 395.6 205.9 393.6 204.5" stroke-width="2.1"/>
<path d="M404 191.6 C402.6 194.6 401.4 198.8 399.6 202.2" stroke-width="2.9"/>
<path d="M396.6 196.6 H405.8" stroke-width="1.3"/>
<path d="M421.8 200.6 C426 200.7 432.4 199.2 432.5 197 C432.6 195.2 427.6 195.4 424.6 197.2 C421.4 199.2 420.4 201.8 422 203.3 C424 205 428.6 204.6 431.4 203" stroke-width="1.7"/>
<path d="M425.2 196.9 C421.4 199 420.4 201.8 422 203.3 C423.4 204.5 426 204.8 428 204.3" stroke-width="2.8"/>
<path d="M281.4 331 L274.2 342.4 C273.2 344.4 274.6 345.6 276.6 345 L280 344" stroke-width="2.2"/>
<path d="M280.6 332.4 L274.8 341.8" stroke-width="3"/>
<path d="M328.2 335.6 L323 345 C321.6 346.8 319 346.8 317.8 345.4 L317.6 344.2" stroke-width="2.1"/>
<path d="M327.8 336.4 L323.6 344" stroke-width="2.8"/>
<circle cx="330.7" cy="331.1" r="1.4" fill="#111" stroke="none"/>
</g>
</g>

<!-- ===== FIG. 1. ===== -->
<g id="fig" class="ln" stroke-width="2.7">
<path d="M251 570.6 L259 556.8 L272.6 555.7 M254.8 564.2 L265.2 563.2"/>
<path d="M272.8 571.6 L281 557.4"/>
<path d="M299.2 563.4 C296 560.8 289 561.2 285.4 565 C282.4 568.6 284 572 289.4 572 C293.6 572 297 570.8 298.4 567.4 L292 567.4"/>
<path d="M304.6 570.8 L305 570.4" stroke-width="3"/>
<path d="M323 570.6 L332.6 556.8"/>
<path d="M336.8 570.4 L337.2 570" stroke-width="3"/>
</g>

<!-- misc specks -->
<g id="specks" fill="#222" stroke="none">
<path d="M409.6 48 L411.4 54.6 L412.4 51.4 Z"/>
<rect x="312.8" y="604.6" width="1.2" height="5.4"/>
<rect x="542" y="61.2" width="18" height="0.8" fill="#b5b5b5"/>
</g>
</svg>
</body>
</html>
